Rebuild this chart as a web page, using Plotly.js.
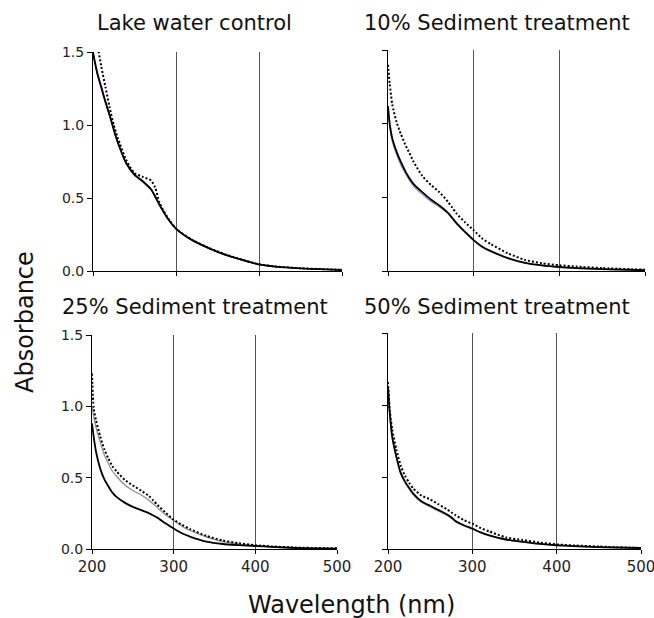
<!DOCTYPE html>
<html>
<head>
<meta charset="utf-8">
<script src="https://cdn.plot.ly/plotly-3.0.1.min.js"></script>
<style>html,body{margin:0;padding:0;background:#fff}#chart{width:654px;height:618px}</style>
</head>
<body>
<div id="chart"></div>
<script>
// Wavelength grid (nm)
const wavelength = [200,202,205,210,215,220,225,230,240,250,260,270,275,280,290,300,310,320,340,360,380,400,420,450,500];

// Panel titles
const panelTitles = ["Lake water control","10% Sediment treatment","25% Sediment treatment","50% Sediment treatment"];

// Lake water control
const lakeSolid  = [1.50,1.44,1.36,1.26,1.16,1.07,0.97,0.88,0.74,0.66,0.615,0.56,0.51,0.455,0.36,0.29,0.245,0.21,0.155,0.11,0.076,0.045,0.03,0.018,0.007];
const lakeThin   = [1.49,1.43,1.35,1.25,1.15,1.06,0.965,0.875,0.735,0.655,0.61,0.555,0.505,0.45,0.358,0.289,0.244,0.209,0.154,0.109,0.075,0.044,0.029,0.017,0.006];
const lakeDotted = [1.72,1.65,1.56,1.40,1.26,1.12,1.00,0.91,0.76,0.67,0.645,0.62,0.57,0.47,0.365,0.29,0.247,0.212,0.157,0.112,0.077,0.046,0.031,0.019,0.008];

// 10% Sediment treatment
const s10Solid  = [1.12,1.00,0.90,0.81,0.74,0.68,0.63,0.59,0.535,0.485,0.445,0.395,0.36,0.325,0.265,0.21,0.165,0.135,0.088,0.055,0.038,0.027,0.02,0.013,0.005];
const s10Thin   = [1.10,0.98,0.88,0.79,0.72,0.665,0.615,0.575,0.52,0.472,0.435,0.39,0.355,0.32,0.26,0.205,0.162,0.132,0.085,0.053,0.036,0.025,0.018,0.011,0.004];
const s10Dotted = [1.40,1.27,1.13,1.01,0.93,0.86,0.80,0.74,0.645,0.585,0.535,0.47,0.43,0.39,0.33,0.277,0.22,0.183,0.12,0.075,0.052,0.039,0.03,0.02,0.009];

// 25% Sediment treatment
const s25Solid  = [0.88,0.79,0.68,0.565,0.49,0.44,0.395,0.365,0.325,0.295,0.273,0.25,0.235,0.22,0.18,0.143,0.11,0.087,0.052,0.035,0.027,0.021,0.015,0.007,0.002];
const s25Thin   = [1.00,0.93,0.85,0.75,0.66,0.60,0.545,0.51,0.45,0.41,0.38,0.34,0.315,0.29,0.24,0.20,0.16,0.13,0.085,0.052,0.035,0.023,0.015,0.007,0.0];
const s25Dotted = [1.23,0.99,0.90,0.79,0.70,0.635,0.58,0.545,0.485,0.445,0.41,0.37,0.34,0.31,0.255,0.205,0.17,0.14,0.092,0.06,0.04,0.027,0.018,0.01,0.005];

// 50% Sediment treatment
const s50Solid  = [1.13,0.95,0.78,0.64,0.53,0.47,0.425,0.385,0.33,0.30,0.27,0.24,0.22,0.195,0.165,0.142,0.115,0.095,0.066,0.05,0.035,0.026,0.02,0.013,0.007];
const s50Thin   = [1.12,0.94,0.77,0.63,0.52,0.46,0.415,0.375,0.322,0.292,0.262,0.232,0.212,0.19,0.16,0.138,0.112,0.092,0.063,0.047,0.033,0.024,0.018,0.011,0.005];
const s50Dotted = [1.16,0.97,0.83,0.69,0.58,0.51,0.46,0.42,0.37,0.345,0.31,0.275,0.255,0.235,0.20,0.176,0.145,0.122,0.08,0.062,0.045,0.032,0.025,0.017,0.007];

// Tick labels
const xTicks = [200,300,400,500];
const yTicks = [0,0.5,1.0,1.5];
const yTickText = ["0.0","0.5","1.0","1.5"];

const W = 654, H = 618;
const panels = [
  {solid: lakeSolid, thin: lakeThin, dotted: lakeDotted, thinColor: "#6e2d72", px: [93,342], py: [52,271], left: true,  bottom: false, tx: 194, ty: 23},
  {solid: s10Solid,  thin: s10Thin,  dotted: s10Dotted,  thinColor: "#8f84c4", px: [388,645], py: [50,271], left: false, bottom: false, tx: 497, ty: 23},
  {solid: s25Solid,  thin: s25Thin,  dotted: s25Dotted,  thinColor: "#8a8a8a", px: [92,337], py: [335,549], left: true,  bottom: true,  tx: 195, ty: 307},
  {solid: s50Solid,  thin: s50Thin,  dotted: s50Dotted,  thinColor: "#9a9a9a", px: [388,641], py: [333,549], left: false, bottom: true,  tx: 497, ty: 307}
];

const font = "DejaVu Sans, sans-serif";
const traces = [];
const layout = {
  width: W, height: H,
  margin: {l:0, r:0, t:0, b:0},
  paper_bgcolor: "#fff", plot_bgcolor: "#fff",
  showlegend: false,
  font: {family: font, color: "#222"},
  annotations: []
};

panels.forEach((p, i) => {
  const n = i === 0 ? "" : String(i + 1);
  const xa = "x" + n, ya = "y" + n;
  traces.push({x: wavelength, y: p.thin, xaxis: xa, yaxis: ya, mode: "lines",
    line: {color: p.thinColor, width: 1.2, shape: "spline", smoothing: 0.6}, hoverinfo: "skip"});
  traces.push({x: wavelength, y: p.solid, xaxis: xa, yaxis: ya, mode: "lines",
    line: {color: "#000", width: 1.8, shape: "spline", smoothing: 0.6}, hoverinfo: "skip"});
  traces.push({x: wavelength, y: p.dotted, xaxis: xa, yaxis: ya, mode: "lines",
    line: {color: "#000", width: 2, dash: "2px,2px", shape: "spline", smoothing: 0.6}, hoverinfo: "skip"});

  layout["xaxis" + n] = {
    domain: [p.px[0] / W, p.px[1] / W],
    anchor: ya, range: [200, 500],
    tickvals: xTicks, ticktext: xTicks.map(String),
    showticklabels: p.bottom,
    ticklabeloverflow: "allow",
    ticks: "outside", ticklen: 4, tickcolor: "#000", tickwidth: 1,
    showline: true, linecolor: "#000", linewidth: 1,
    showgrid: true, gridcolor: "#555", gridwidth: 1,
    zeroline: false,
    tickfont: {family: font, size: 15, color: "#222"}
  };
  layout["yaxis" + n] = {
    domain: [1 - p.py[1] / H, 1 - p.py[0] / H],
    anchor: xa, range: [0, 1.5],
    tickvals: yTicks, ticktext: yTickText,
    showticklabels: p.left,
    ticks: "outside", ticklen: 5, tickcolor: "#000", tickwidth: 1,
    showline: true, linecolor: "#000", linewidth: 1,
    showgrid: false, zeroline: false,
    tickfont: {family: font, size: 14, color: "#222"}
  };
  layout.annotations.push({
    text: panelTitles[i], xref: "paper", yref: "paper",
    x: p.tx / W, y: 1 - p.ty / H, xanchor: "center", yanchor: "middle",
    showarrow: false, font: {family: font, size: 21, color: "#111"}
  });
});

layout.annotations.push({
  text: "Absorbance", xref: "paper", yref: "paper", x: 25 / W, y: 1 - 322 / H,
  xanchor: "center", yanchor: "middle", textangle: -90, showarrow: false,
  font: {family: font, size: 24, color: "#111"}
});
layout.annotations.push({
  text: "Wavelength (nm)", xref: "paper", yref: "paper", x: 351 / W, y: 1 - 605 / H,
  xanchor: "center", yanchor: "middle", showarrow: false,
  font: {family: font, size: 24, color: "#111"}
});

Plotly.newPlot("chart", traces, layout, {staticPlot: true, displayModeBar: false});
</script>
</body>
</html>
